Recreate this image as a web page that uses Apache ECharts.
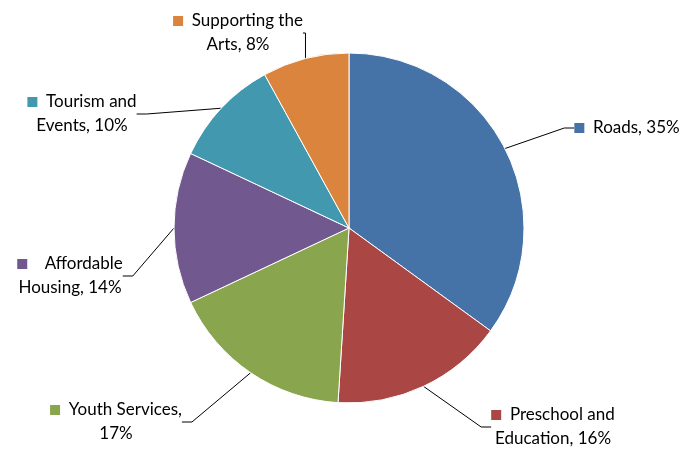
<!DOCTYPE html>
<html><head><meta charset="utf-8">
<script src="https://cdn.jsdelivr.net/npm/echarts@6/dist/echarts.min.js"></script>
<style>html,body{margin:0;padding:0;background:#fff}#c{width:681px;height:450px}</style>
</head><body><div id="c"></div>
<script>
var categories = ['Roads','Preschool and Education','Youth Services','Affordable Housing','Tourism and Events','Supporting the Arts'];
var values = [35,16,17,14,10,8];
var labelTexts = ['Roads, 35%','Preschool and\nEducation, 16%','Youth Services,\n17%','  Affordable\nHousing, 14%','Tourism and\nEvents, 10%','Supporting the\nArts, 8%'];
var colors = ['#4572A7','#AA4643','#89A54E','#71588F','#4198AF','#DB843D'];
var labelPos = [[627,128],[553,427],[116,422],[70,276],[82,114],[238,33]];

var chart = echarts.init(document.getElementById('c'));
var data = categories.map(function(c,i){
  var t = labelTexts[i].split('\n');
  var first = '{sq|}  ' + t[0];
  var txt = t.length > 1 ? first + '\n' + t[1] : first;
  return {
    name: c, value: values[i],
    itemStyle: {color: colors[i]},
    label: {formatter: txt, rich: {sq: {width: 10, height: 10, backgroundColor: colors[i]}}}
  };
});
chart.setOption({
  animation: false,
  series: [{
    type: 'pie',
    center: [349, 228],
    radius: 175,
    startAngle: 90,
    clockwise: true,
    itemStyle: {borderColor: '#fff', borderWidth: 1},
    label: {
      show: true, position: 'outside', color: '#000',
      fontFamily: 'Lato, "Open Sans", sans-serif', fontSize: 17, lineHeight: 24, align: 'center'
    },
    labelLine: {show: true, length: 15, length2: 10, lineStyle: {color: '#000', width: 1}},
    labelLayout: function(p){
      var pos = labelPos[p.dataIndex];
      return {x: pos[0], y: pos[1], align: 'center', verticalAlign: 'middle'};
    },
    data: data
  }]
});
</script></body></html>
